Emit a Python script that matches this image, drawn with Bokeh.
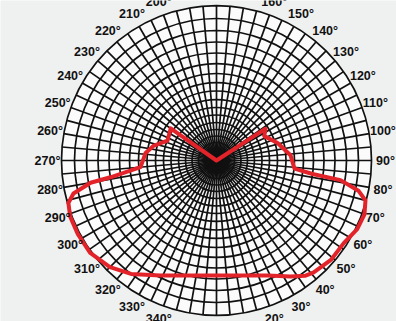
import math
from bokeh.plotting import figure
from bokeh.models import Range1d
from bokeh.embed import file_html
from bokeh.resources import INLINE
from bokeh.core.properties import value

# Luminous intensity distribution (relative to the outer ring), angle 0 = straight down
angles_deg = [0, 13, 24, 32.5, 37.5, 41, 49, 57, 64, 70, 75, 78, 81, 82, 84, 94,
              106, 117, 123, 180, 235, 248, 257, 264, 275, 279, 280, 283, 286,
              291, 298, 306, 315, 323, 334, 347]
intensity = [0.742, 0.762, 0.812, 0.888, 0.938, 0.956, 0.978, 0.979, 1.01, 1.016,
             0.995, 0.936, 0.81, 0.626, 0.506, 0.479, 0.41, 0.346, 0.377, 0.0,
             0.361, 0.341, 0.418, 0.46, 0.492, 0.693, 0.825, 0.947, 0.994, 1.011,
             1.013, 1.01, 0.972, 0.916, 0.825, 0.761]

# Angle labels every 10 degrees (those lying wholly outside the frame are left out)
label_angles = [a for a in range(0, 360, 10) if a not in (0, 10, 180, 350)]
label_texts = [f"{a}°" for a in label_angles]

# Ring radii of the polar grid (fraction of outer radius), denser toward the centre
ring_px = [155, 142, 130, 118.5, 107.5, 97, 87, 78, 69.5, 61, 53, 45.5, 38, 31,
           24.5, 18, 12.5, 8, 4.5]
SCALE = 155.0
rings = [r / SCALE for r in ring_px]
spoke_step = 5


def to_xy(theta_deg, r):
    t = math.radians(theta_deg)
    return r * math.sin(t), -r * math.cos(t)


W, H = 396, 321
CX, CY = 216, 160
p = figure(width=W, height=H, output_backend="svg", toolbar_location=None,
           x_range=Range1d(-CX / SCALE, (W - CX) / SCALE),
           y_range=Range1d(-(H - CY) / SCALE, CY / SCALE),
           min_border=0)
p.axis.visible = False
p.grid.visible = False
p.outline_line_color = None
p.background_fill_color = "#eff0f0"
p.border_fill_color = "#eff0f0"

# white disc behind the grid
p.circle(x=[0], y=[0], radius=1.0, fill_color="#fbfbfb", line_color=None)

# spokes
sx, sy = [], []
for a in range(0, 360, spoke_step):
    x, y = to_xy(a, 1.0)
    sx.append(x)
    sy.append(y)
p.segment(x0=[0] * len(sx), y0=[0] * len(sy), x1=sx, y1=sy,
          line_color="#111111", line_width=1.7)

# rings
p.circle(x=[0] * len(rings), y=[0] * len(rings), radius=rings,
         fill_color=None, line_color="#111111", line_width=1.7)

# intensity curve
cx_pts, cy_pts = [], []
for a, r in zip(angles_deg + [angles_deg[0]], intensity + [intensity[0]]):
    x, y = to_xy(a, r)
    cx_pts.append(x)
    cy_pts.append(y)
p.line(cx_pts, cy_pts, line_color="#e3232a", line_width=4,
       line_join="round", line_cap="round")

# angle labels
L = 169 / SCALE
lx, ly = [], []
for a in label_angles:
    x, y = to_xy(a, L)
    lx.append(x)
    ly.append(y)
p.text(x=lx, y=ly, text=label_texts, text_align="center", text_baseline="middle",
       text_font=value("Liberation Sans"), text_font_style="bold",
       text_font_size="12.5px", text_color="#111111")

open("out.html", "w").write(file_html(p, INLINE))
